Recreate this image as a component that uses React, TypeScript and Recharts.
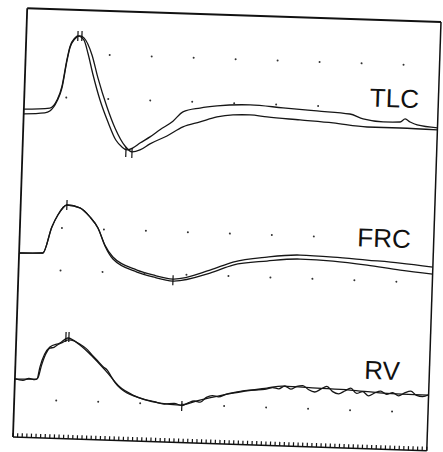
import React from 'react';
import { ComposedChart, Line, Scatter, XAxis, YAxis, ReferenceLine, ReferenceDot } from 'recharts';

// time (arbitrary units) vs. signal (arbitrary units)
const tlcA = [
  [0, 328], [26, 330], [32.7, 338], [37.3, 352], [41.4, 379], [44, 392], [48.7, 401], [51.6, 403],
  [57.8, 399], [62.2, 386], [67.9, 365], [75.7, 340], [84.5, 318], [93.1, 300], [99.3, 293.5],
  [104.4, 290.7], [110.3, 292.9], [117.2, 298], [127, 304.5], [136.7, 312], [149.4, 321],
  [159.1, 330.6], [176, 335], [193, 337.7], [226, 339.8], [259, 338], [293, 336], [326, 334],
  [339.4, 329.5], [359.5, 327.2], [376.5, 327.7], [381.4, 330.9], [386.5, 328], [393.6, 325.3], [414, 323],
];
const tlcB = [
  [0, 323.4], [21, 325], [26, 327], [32.8, 337], [37.4, 350.6], [41.5, 377.7], [44, 390.8], [48.7, 400],
  [53.6, 403.2], [57.7, 401.3], [66.3, 384.5], [73, 361.7], [83, 333], [91.7, 312.3], [102.3, 294.6],
  [109.5, 288.9], [117.4, 291.1], [127.2, 297.5], [143.9, 306], [159.6, 315.6], [176.5, 321.1],
  [193.3, 326.7], [209.2, 329.2], [226.2, 329.8], [243.3, 328.3], [276.4, 326.4], [309.5, 324.5],
  [343.6, 321.6], [376.7, 321.7], [414, 321],
];
const frcA = [
  [0, 184.1], [23.8, 184.9], [31.9, 211.2], [37.5, 223.4], [46.2, 233.7], [59.3, 231.2], [69.6, 222.5],
  [78, 211.7], [85.5, 195], [93.9, 183.2], [118.4, 171], [134.5, 166.6], [154.7, 163.2], [191.4, 173.4],
  [214.1, 182.2], [247.9, 188.3], [280.9, 191.4], [313.9, 190.5], [348, 188.6], [381.1, 186.7], [414, 183.8],
];
const frcB = [
  [0, 184.1], [23.8, 184.9], [31.9, 211.2], [37.5, 223.4], [46.2, 233.7], [59.3, 231.2], [69.6, 222.5],
  [78, 211.7], [85.6, 194], [94, 181.2], [118.4, 169], [134.6, 164.6], [154.7, 161.2], [191.5, 170.4],
  [214.2, 179.2], [248, 184.3], [281, 187.4], [314, 186.5], [348.2, 183.6], [381.4, 179.7], [414, 176.8],
];
const rvA = [
  [0, 58], [22, 58.7], [24.6, 70.8], [33.9, 91.2], [43.8, 95.5], [51.6, 100.8], [63.8, 94.2], [77.2, 82.6],
  [91.7, 68], [105.2, 53.5], [118.5, 45.9], [145.7, 38.8], [165.8, 37.5], [185.6, 43.1], [218.4, 51.2],
  [252.2, 57.3], [268.2, 59.9], [302.2, 59], [335.3, 58.1], [368.4, 56.2], [414, 55.6],
];
const rvB = [
  [0, 58.5], [8, 57], [14, 59], [20, 58], [23, 60], [26, 72], [30, 84], [34, 90], [38, 91], [42, 94],
  [46, 96], [52, 99], [58, 98], [64, 95], [70, 91], [76, 85], [82, 79], [88, 73], [92, 70], [96, 64],
  [100, 58], [106, 52], [112, 48], [120, 45], [130, 42], [140, 40], [150, 38], [160, 39], [168, 37],
  [174, 40], [180, 42], [186, 41], [192, 46], [198, 48], [204, 47], [212, 50], [220, 52], [230, 54],
  [240, 55], [250, 56], [258, 58], [264, 57], [270, 60], [276, 57], [282, 60], [288, 61], [294, 57],
  [300, 55], [306, 58], [312, 61], [318, 56], [324, 54], [330, 57], [336, 60], [342, 55], [348, 57],
  [354, 53], [360, 56], [366, 58], [372, 55], [378, 57], [384, 54], [390, 57], [396, 59], [402, 55],
  [408, 54], [414, 56],
];

// cursor markers (peak / trough)
const markers = [
  [51.6, 403], [55.6, 403], [103.4, 288.7], [109.5, 287.9], [46.2, 233.7], [154.7, 162],
  [49.6, 101.7], [52.6, 101.8], [167.7, 36.5],
];

// reference dot grid
const gridCols = [42, 84, 126, 168, 210, 252, 294, 336, 378];
const gridRows = [
  { v: 385, from: 1, to: 8 },
  { v: 341, from: 0, to: 6 },
  { v: 210.5, from: 0, to: 6 },
  { v: 168, from: 0, to: 8 },
  { v: 38, from: 0, to: 8 },
];

const traceLabels = [
  { name: 'TLC', t: 370, v: 351.5 },
  { name: 'FRC', t: 364.3, v: 211.2 },
  { name: 'RV', t: 366.7, v: 79 },
];

const rulerTicks = Array.from({ length: 91 }, (_, i) => Math.round(i * 4.6 * 10) / 10);

const toPts = (arr: number[][]) => arr.map(([t, v]) => ({ t, v }));
const gridDots = gridRows.flatMap((r) => gridCols.slice(r.from, r.to + 1).map((t) => ({ t, v: r.v })));

const EmptyTick = () => <g />;
const GridDot = (p: any) => <circle cx={p.cx} cy={p.cy} r={1} fill="#333" />;
const Marker = (p: any) => (
  <line x1={p.cx} x2={p.cx} y1={p.cy - 5} y2={p.cy + 5} stroke="#111" strokeWidth={1.2} />
);

const series = [tlcA, tlcB, frcA, frcB, rvA, rvB];
const FONT = '"Liberation Sans", Arial, Helvetica, sans-serif';

export default function App() {
  return (
    <div
      style={{
        position: 'absolute',
        left: 0,
        top: 0,
        width: 443,
        height: 452,
        background: '#fff',
        transform: 'rotate(1.9deg)',
        transformOrigin: '227px 229px',
      }}
    >
      <ComposedChart width={443} height={452} margin={{ top: 15, right: 9, bottom: 8, left: 20 }}>
        <XAxis
          type="number"
          dataKey="t"
          domain={[0, 414]}
          ticks={rulerTicks}
          interval={0}
          tick={EmptyTick}
          tickSize={4}
          mirror
          height={1}
          axisLine={{ stroke: '#111', strokeWidth: 1.6 }}
          tickLine={{ stroke: '#111', strokeWidth: 1.2 }}
          allowDataOverflow
        />
        <YAxis type="number" dataKey="v" domain={[0, 429]} hide allowDataOverflow />
        <ReferenceLine x={0} stroke="#111" strokeWidth={1.8} />
        <ReferenceLine x={414} stroke="#111" strokeWidth={1.5} />
        <ReferenceLine y={429} stroke="#111" strokeWidth={1.8} />
        <Scatter data={gridDots} dataKey="v" shape={GridDot} isAnimationActive={false} />
        {series.map((s, i) => (
          <Line
            key={i}
            data={toPts(s)}
            dataKey="v"
            type="monotone"
            stroke="#161616"
            strokeWidth={1.3}
            dot={false}
            activeDot={false}
            isAnimationActive={false}
          />
        ))}
        <Scatter data={toPts(markers)} dataKey="v" shape={Marker} isAnimationActive={false} />
        {traceLabels.map((l) => (
          <ReferenceDot
            key={l.name}
            x={l.t}
            y={l.v}
            r={0}
            stroke="none"
            label={{ value: l.name, position: 'center', fill: '#111', fontSize: 26, fontFamily: FONT }}
          />
        ))}
      </ComposedChart>
    </div>
  );
}
